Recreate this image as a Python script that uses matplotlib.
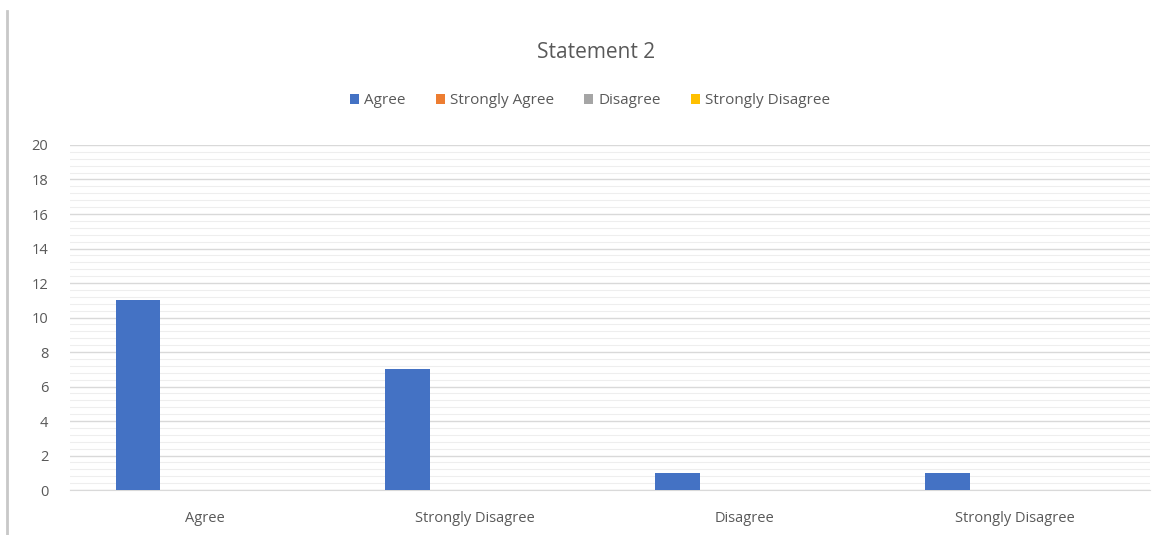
import numpy as np
import matplotlib.pyplot as plt
from matplotlib.lines import Line2D
from matplotlib.patches import Patch
from matplotlib.ticker import MultipleLocator

# =========================
# DATA
# =========================

categories = ["Agree", "Strongly Disagree", "Disagree", "Strongly Disagree"]
series_names = ["Agree", "Strongly Agree", "Disagree", "Strongly Disagree"]

agree = [11, 7, 1, 1]
strongly_agree = [0, 0, 0, 0]
disagree = [0, 0, 0, 0]
strongly_disagree = [0, 0, 0, 0]

colors = ["#4472C4", "#ED7D31", "#A5A5A5", "#FFC000"]

plt.rcParams["font.family"] = ["Open Sans", "DejaVu Sans"]

# =========================
# PLOT
# =========================

fig = plt.figure(figsize=(11.73, 5.35), dpi=100)
ax = fig.add_axes([0.06, 0.084, 0.92, 0.645])

x = np.arange(len(categories))
w = 0.166
all_series = [agree, strongly_agree, disagree, strongly_disagree]

for i, vals in enumerate(all_series):
    ax.bar(x + (i - 1.5) * w, vals, width=w, color=colors[i], zorder=3)

ax.set_xlim(-0.5, len(categories) - 0.5)
ax.set_ylim(0, 20)
ax.yaxis.set_major_locator(MultipleLocator(2))
ax.yaxis.set_minor_locator(MultipleLocator(0.4))
ax.grid(axis="y", which="major", color="#d9d9d9", lw=1.0, zorder=0)
ax.grid(axis="y", which="minor", color="#eeeeee", lw=0.8, zorder=0)

for s in ["top", "right", "left"]:
    ax.spines[s].set_visible(False)
ax.spines["bottom"].set_color("#d9d9d9")

ax.set_xticks(x)
ax.set_xticklabels(categories)
ax.tick_params(axis="both", which="both", length=0, colors="#595959", labelsize=10.5)
ax.tick_params(axis="x", pad=15)
ax.tick_params(axis="y", pad=16)

fig.text(0.508, 0.902, "Statement 2", ha="center", va="center",
         fontsize=15, color="#595959")

handles = [Patch(facecolor=c) for c in colors]
fig.legend(handles, series_names, loc="center", bbox_to_anchor=(0.503, 0.812),
           ncol=4, frameon=False, fontsize=11, labelcolor="#595959",
           handlelength=0.6, handleheight=0.6, handletextpad=0.3,
           columnspacing=2.0)

# page border line on the left
fig.add_artist(Line2D([0.006, 0.006], [0.0, 0.98], color="#c8c8c8", lw=2))

fig.savefig("out.png", dpi=100)
